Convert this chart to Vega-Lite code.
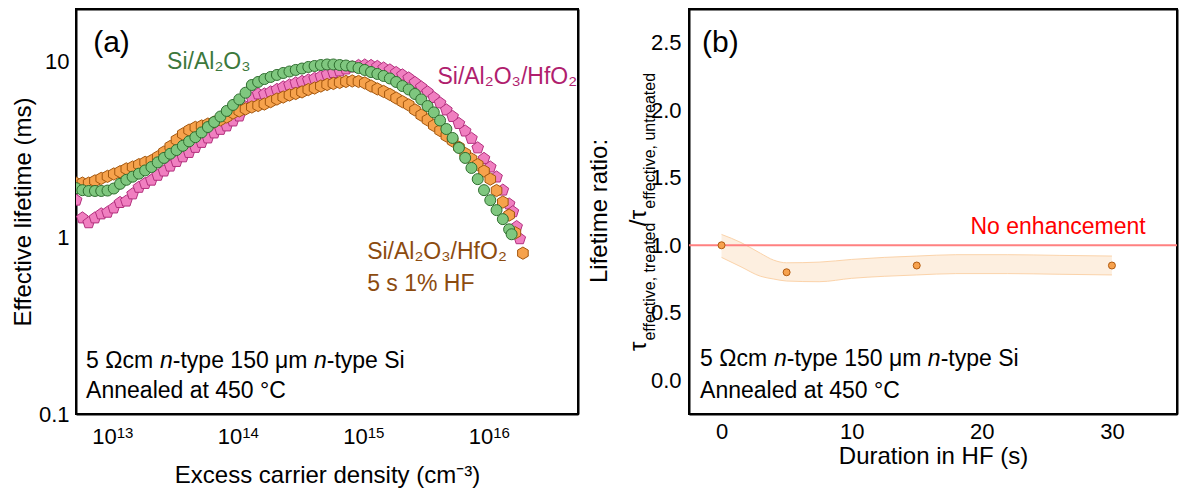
{
"$schema":"https://vega.github.io/schema/vega-lite/v6.json",
"autosize":{"type":"pad"},
"padding":{"left":10,"top":7,"right":16,"bottom":5},
"bounds":"flush",
"spacing":111,
"config":{
 "font":"Liberation Sans",
 "view":{"stroke":"#000","strokeWidth":2},
 "axis":{"domainColor":"#000","domainWidth":2,"tickColor":"#000","tickWidth":1.5,"tickSize":0,"labelFont":"Liberation Sans","labelFontSize":22,"labelColor":"#000","titleFont":"Liberation Sans","titleFontSize":24,"titleFontWeight":"normal","titleColor":"#000","grid":false,"labelOverlap":false,"labelFlush":false},
 "text":{"font":"Liberation Sans"}
},
"datasets":{
 "lifetime":[
  {"n":5.012e12,"g":1.92,"o":2.05,"p":1.64},
  {"n":5.623e12,"g":1.87,"o":2.05,"p":1.30},
  {"n":6.310e12,"g":1.85,"o":2.05,"p":1.22},
  {"n":7.079e12,"g":1.85,"o":2.11,"p":1.30},
  {"n":7.943e12,"g":1.85,"o":2.18,"p":1.37},
  {"n":8.913e12,"g":1.86,"o":2.24,"p":1.40},
  {"n":1.000e13,"g":1.91,"o":2.31,"p":1.48},
  {"n":1.122e13,"g":2.03,"o":2.38,"p":1.59},
  {"n":1.259e13,"g":2.14,"o":2.47,"p":1.62},
  {"n":1.413e13,"g":2.23,"o":2.53,"p":1.78},
  {"n":1.585e13,"g":2.32,"o":2.61,"p":1.94},
  {"n":1.778e13,"g":2.42,"o":2.69,"p":2.04},
  {"n":1.995e13,"g":2.53,"o":2.75,"p":2.13},
  {"n":2.239e13,"g":2.69,"o":2.89,"p":2.27},
  {"n":2.512e13,"g":2.85,"o":3.08,"p":2.40},
  {"n":2.818e13,"g":3.01,"o":3.31,"p":2.56},
  {"n":3.162e13,"g":3.16,"o":3.61,"p":2.72},
  {"n":3.548e13,"g":3.34,"o":3.90,"p":2.89},
  {"n":3.981e13,"g":3.54,"o":4.10,"p":3.06},
  {"n":4.467e13,"g":3.74,"o":4.25,"p":3.27},
  {"n":5.012e13,"g":3.98,"o":4.33,"p":3.49},
  {"n":5.623e13,"g":4.27,"o":4.44,"p":3.70},
  {"n":6.310e13,"g":4.56,"o":4.56,"p":3.95},
  {"n":7.079e13,"g":4.90,"o":4.69,"p":4.14},
  {"n":7.943e13,"g":5.27,"o":4.87,"p":4.33},
  {"n":8.913e13,"g":5.70,"o":5.13,"p":4.62},
  {"n":1.000e14,"g":6.13,"o":5.27,"p":4.93},
  {"n":1.122e14,"g":6.69,"o":5.41,"p":5.55},
  {"n":1.259e14,"g":7.40,"o":5.55,"p":6.24},
  {"n":1.413e14,"g":7.70,"o":5.66,"p":6.58},
  {"n":1.585e14,"g":8.00,"o":5.77,"p":6.58},
  {"n":1.778e14,"g":8.22,"o":5.95,"p":6.76},
  {"n":1.995e14,"g":8.44,"o":6.16,"p":6.98},
  {"n":2.239e14,"g":8.66,"o":6.32,"p":7.21},
  {"n":2.512e14,"g":8.83,"o":6.49,"p":7.40},
  {"n":2.818e14,"g":9.01,"o":6.62,"p":7.60},
  {"n":3.162e14,"g":9.18,"o":6.76,"p":7.75},
  {"n":3.548e14,"g":9.37,"o":6.97,"p":7.90},
  {"n":3.981e14,"g":9.49,"o":7.11,"p":8.06},
  {"n":4.467e14,"g":9.61,"o":7.30,"p":8.27},
  {"n":5.012e14,"g":9.68,"o":7.45,"p":8.49},
  {"n":5.623e14,"g":9.68,"o":7.55,"p":8.71},
  {"n":6.310e14,"g":9.61,"o":7.65,"p":8.89},
  {"n":7.079e14,"g":9.55,"o":7.75,"p":9.12},
  {"n":7.943e14,"g":9.43,"o":7.80,"p":9.37},
  {"n":8.913e14,"g":9.24,"o":7.75,"p":9.55},
  {"n":1.000e15,"g":9.01,"o":7.60,"p":9.61},
  {"n":1.122e15,"g":8.77,"o":7.30,"p":9.55},
  {"n":1.259e15,"g":8.55,"o":7.03,"p":9.43},
  {"n":1.413e15,"g":8.33,"o":6.80,"p":9.24},
  {"n":1.585e15,"g":8.06,"o":6.54,"p":9.01},
  {"n":1.778e15,"g":7.70,"o":6.24,"p":8.71},
  {"n":1.995e15,"g":7.30,"o":5.95,"p":8.44},
  {"n":2.239e15,"g":6.98,"o":5.70,"p":8.11},
  {"n":2.512e15,"g":6.58,"o":5.34,"p":7.65},
  {"n":2.818e15,"g":6.13,"o":4.99,"p":7.21},
  {"n":3.162e15,"g":5.62,"o":4.69,"p":6.76},
  {"n":3.548e15,"g":5.17,"o":4.36,"p":6.28},
  {"n":3.981e15,"g":4.65,"o":4.08,"p":5.85},
  {"n":4.467e15,"g":4.16,"o":3.80,"p":5.34},
  {"n":5.012e15,"g":3.70,"o":3.56,"p":4.90},
  {"n":5.623e15,"g":3.25,"o":3.28,"p":4.47},
  {"n":6.310e15,"g":2.85,"o":3.02,"p":4.05},
  {"n":7.079e15,"g":2.50,"o":2.81,"p":3.68},
  {"n":7.943e15,"g":2.16,"o":2.61,"p":3.25},
  {"n":8.913e15,"g":1.87,"o":2.40,"p":2.83},
  {"n":1.000e16,"g":1.64,"o":2.16,"p":2.53},
  {"n":1.122e16,"g":1.44,"o":1.86,"p":2.22},
  {"n":1.259e16,"g":1.28,"o":1.60,"p":1.87},
  {"n":1.413e16,"g":1.12,"o":1.35,"p":1.56},
  {"n":1.479e16,"g":1.05},
  {"n":1.514e16,"p":1.41},
  {"n":1.585e16,"o":1.07},
  {"n":1.622e16,"p":1.16},
  {"n":1.718e16,"p":0.99},
  {"n":1.820e16,"o":0.82}
 ],
 "decades":[{"n":1e13,"e":"13"},{"n":1e14,"e":"14"},{"n":1e15,"e":"15"},{"n":1e16,"e":"16"}],
 "ratio":[{"t":0,"r":1.0},{"t":5,"r":0.80},{"t":15,"r":0.85},{"t":30,"r":0.85}],
 "band":[
  {"t":0,"lo":0.91,"hi":1.08},{"t":1.5,"lo":0.84,"hi":1.02},{"t":3,"lo":0.77,"hi":0.94},{"t":4,"lo":0.75,"hi":0.89},
  {"t":5,"lo":0.735,"hi":0.87},{"t":7.5,"lo":0.73,"hi":0.875},{"t":10,"lo":0.755,"hi":0.895},{"t":12.5,"lo":0.77,"hi":0.91},
  {"t":15,"lo":0.78,"hi":0.92},{"t":18,"lo":0.79,"hi":0.93},{"t":22,"lo":0.79,"hi":0.93},{"t":26,"lo":0.785,"hi":0.925},{"t":30,"lo":0.78,"hi":0.92}
 ]
},
"hconcat":[
 {
  "width":502,"height":405,
  "data":{"name":"lifetime"},
  "resolve":{"axis":{"x":"independent","y":"independent"}},
  "layer":[
   {"mark":{"type":"point","shape":"M0,-1L0.951,-0.309L0.588,0.809L-0.588,0.809L-0.951,-0.309Z","filled":true,"fill":"#f07fc0","stroke":"#b3307e","strokeWidth":1,"size":150,"opacity":1,"clip":true},
    "encoding":{
     "x":{"field":"n","type":"quantitative","scale":{"type":"log","domain":[5e12,5e16],"nice":false},
      "axis":{"orient":"bottom","values":[6e12,7e12,8e12,9e12,1e13,2e13,3e13,4e13,5e13,6e13,7e13,8e13,9e13,1e14,2e14,3e14,4e14,5e14,6e14,7e14,8e14,9e14,1e15,2e15,3e15,4e15,5e15,6e15,7e15,8e15,9e15,1e16,2e16,3e16,4e16],
       "labels":false,"title":"Excess carrier density (cm⁻³)","titlePadding":49,
       "encode":{"ticks":{"y2":{"condition":{"test":"datum.value==1e13||datum.value==1e14||datum.value==1e15||datum.value==1e16","value":-8},"value":-4}}}}},
     "y":{"field":"p","type":"quantitative","scale":{"type":"log","domain":[0.1,20],"nice":false},
      "axis":{"orient":"left","values":[0.1,0.2,0.3,0.4,0.5,0.6,0.7,0.8,0.9,1,2,3,4,5,6,7,8,9,10],
       "labelExpr":"datum.value==0.1?'0.1':datum.value==1?'1':datum.value==10?'10':''",
       "labelPadding":7,"title":"Effective lifetime (ms)","titlePadding":3,
       "encode":{"ticks":{"x2":{"condition":{"test":"datum.value==0.1||datum.value==1||datum.value==10","value":8},"value":4}}}}}
    }},
   {"mark":{"type":"point","shape":"M0,-1L0.866,-0.5L0.866,0.5L0,1L-0.866,0.5L-0.866,-0.5Z","filled":true,"fill":"#f6a24c","stroke":"#a4570e","strokeWidth":1,"size":150,"opacity":1,"clip":true},
    "encoding":{
     "x":{"field":"n","type":"quantitative","scale":{"type":"log","domain":[5e12,5e16],"nice":false},
      "axis":{"orient":"top","values":[6e12,7e12,8e12,9e12,1e13,2e13,3e13,4e13,5e13,6e13,7e13,8e13,9e13,1e14,2e14,3e14,4e14,5e14,6e14,7e14,8e14,9e14,1e15,2e15,3e15,4e15,5e15,6e15,7e15,8e15,9e15,1e16,2e16,3e16,4e16],
       "labels":false,"title":null,
       "encode":{"ticks":{"y2":{"condition":{"test":"datum.value==1e13||datum.value==1e14||datum.value==1e15||datum.value==1e16","value":8},"value":4}}}}},
     "y":{"field":"o","type":"quantitative","scale":{"type":"log","domain":[0.1,20],"nice":false},
      "axis":{"orient":"right","values":[0.1,0.2,0.3,0.4,0.5,0.6,0.7,0.8,0.9,1,2,3,4,5,6,7,8,9,10],
       "labels":false,"title":null,
       "encode":{"ticks":{"x2":{"condition":{"test":"datum.value==0.1||datum.value==1||datum.value==10","value":-8},"value":-4}}}}}
    }},
   {"mark":{"type":"point","shape":"circle","filled":true,"fill":"#7fc77f","stroke":"#2f6e2f","strokeWidth":1,"size":121,"opacity":1,"clip":true},
    "encoding":{
     "x":{"field":"n","type":"quantitative","scale":{"type":"log","domain":[5e12,5e16],"nice":false},"axis":null},
     "y":{"field":"g","type":"quantitative","scale":{"type":"log","domain":[0.1,20],"nice":false},"axis":null}
    }},
   {"data":{"name":"decades"},"mark":{"type":"text","text":"10","fontSize":22,"align":"right","dx":3,"baseline":"alphabetic","fill":"#000"},
    "encoding":{"x":{"field":"n","type":"quantitative","scale":{"type":"log","domain":[5e12,5e16],"nice":false},"axis":null},"y":{"datum":0.0675,"type":"quantitative","scale":{"type":"log","domain":[0.1,20],"nice":false},"axis":null}}},
   {"data":{"name":"decades"},"mark":{"type":"text","fontSize":15,"align":"left","dx":3,"baseline":"alphabetic","fill":"#000"},
    "encoding":{"x":{"field":"n","type":"quantitative","scale":{"type":"log","domain":[5e12,5e16],"nice":false},"axis":null},"y":{"datum":0.0731,"type":"quantitative","scale":{"type":"log","domain":[0.1,20],"nice":false},"axis":null},"text":{"field":"e","type":"nominal"}}},
   {"data":{"values":[{}]},"mark":{"type":"text","text":"(a)","fontSize":30,"align":"left","baseline":"alphabetic","fill":"#000"},
    "encoding":{"x":{"datum":6.85e12,"type":"quantitative","scale":{"type":"log","domain":[5e12,5e16],"nice":false},"axis":null},"y":{"datum":11.4,"type":"quantitative","scale":{"type":"log","domain":[0.1,20],"nice":false},"axis":null}}},
   {"data":{"values":[{}]},"mark":{"type":"text","text":"Si/Al₂O₃","fontSize":23,"align":"left","baseline":"alphabetic","fill":"#3c783c"},
    "encoding":{"x":{"datum":2.66e13,"type":"quantitative","scale":{"type":"log","domain":[5e12,5e16],"nice":false},"axis":null},"y":{"datum":9.12,"type":"quantitative","scale":{"type":"log","domain":[0.1,20],"nice":false},"axis":null}}},
   {"data":{"values":[{}]},"mark":{"type":"text","text":"Si/Al₂O₃/HfO₂","fontSize":23,"align":"right","baseline":"alphabetic","fill":"#b01e6e"},
    "encoding":{"x":{"datum":4.92e16,"type":"quantitative","scale":{"type":"log","domain":[5e12,5e16],"nice":false},"axis":null},"y":{"datum":7.5,"type":"quantitative","scale":{"type":"log","domain":[0.1,20],"nice":false},"axis":null}}},
   {"data":{"values":[{}]},"mark":{"type":"text","text":"Si/Al₂O₃/HfO₂","fontSize":23,"align":"left","baseline":"alphabetic","fill":"#8c4b0f"},
    "encoding":{"x":{"datum":1.044e15,"type":"quantitative","scale":{"type":"log","domain":[5e12,5e16],"nice":false},"axis":null},"y":{"datum":0.759,"type":"quantitative","scale":{"type":"log","domain":[0.1,20],"nice":false},"axis":null}}},
   {"data":{"values":[{}]},"mark":{"type":"text","text":"5 s 1% HF","fontSize":23,"align":"left","baseline":"alphabetic","fill":"#8c4b0f"},
    "encoding":{"x":{"datum":1.044e15,"type":"quantitative","scale":{"type":"log","domain":[5e12,5e16],"nice":false},"axis":null},"y":{"datum":0.4995,"type":"quantitative","scale":{"type":"log","domain":[0.1,20],"nice":false},"axis":null}}},
   {"data":{"values":[{}]},"mark":{"type":"text","text":"5 Ωcm ","fontSize":23,"align":"left","baseline":"alphabetic","fill":"#000"},
    "encoding":{"x":{"datum":6.02e12,"type":"quantitative","scale":{"type":"log","domain":[5e12,5e16],"nice":false},"axis":null},"y":{"datum":0.1825,"type":"quantitative","scale":{"type":"log","domain":[0.1,20],"nice":false},"axis":null}}},
   {"data":{"values":[{}]},"mark":{"type":"text","text":"n","fontSize":23,"fontStyle":"italic","dx":73.9,"align":"left","baseline":"alphabetic","fill":"#000"},
    "encoding":{"x":{"datum":6.02e12,"type":"quantitative","scale":{"type":"log","domain":[5e12,5e16],"nice":false},"axis":null},"y":{"datum":0.1825,"type":"quantitative","scale":{"type":"log","domain":[0.1,20],"nice":false},"axis":null}}},
   {"data":{"values":[{}]},"mark":{"type":"text","text":"-type 150 μm ","fontSize":23,"dx":86.7,"align":"left","baseline":"alphabetic","fill":"#000"},
    "encoding":{"x":{"datum":6.02e12,"type":"quantitative","scale":{"type":"log","domain":[5e12,5e16],"nice":false},"axis":null},"y":{"datum":0.1825,"type":"quantitative","scale":{"type":"log","domain":[0.1,20],"nice":false},"axis":null}}},
   {"data":{"values":[{}]},"mark":{"type":"text","text":"n","fontSize":23,"fontStyle":"italic","dx":227.8,"align":"left","baseline":"alphabetic","fill":"#000"},
    "encoding":{"x":{"datum":6.02e12,"type":"quantitative","scale":{"type":"log","domain":[5e12,5e16],"nice":false},"axis":null},"y":{"datum":0.1825,"type":"quantitative","scale":{"type":"log","domain":[0.1,20],"nice":false},"axis":null}}},
   {"data":{"values":[{}]},"mark":{"type":"text","text":"-type Si","fontSize":23,"dx":240.6,"align":"left","baseline":"alphabetic","fill":"#000"},
    "encoding":{"x":{"datum":6.02e12,"type":"quantitative","scale":{"type":"log","domain":[5e12,5e16],"nice":false},"axis":null},"y":{"datum":0.1825,"type":"quantitative","scale":{"type":"log","domain":[0.1,20],"nice":false},"axis":null}}},
   {"data":{"values":[{}]},"mark":{"type":"text","text":"Annealed at 450 °C","fontSize":23,"align":"left","baseline":"alphabetic","fill":"#000"},
    "encoding":{"x":{"datum":6.02e12,"type":"quantitative","scale":{"type":"log","domain":[5e12,5e16],"nice":false},"axis":null},"y":{"datum":0.1233,"type":"quantitative","scale":{"type":"log","domain":[0.1,20],"nice":false},"axis":null}}}
  ]
 },
 {
  "width":488,"height":405,
  "resolve":{"axis":{"x":"independent","y":"independent"}},
  "layer":[
   {"data":{"name":"band"},"mark":{"type":"area","interpolate":"monotone","fill":"#fdefe0","opacity":1},
    "encoding":{
     "x":{"field":"t","type":"quantitative","scale":{"domain":[-2.5,35],"nice":false,"zero":false},
      "axis":{"orient":"bottom","values":[0,5,10,15,20,25,30],"labelExpr":"datum.value%10==0?datum.label:''",
       "labelPadding":7,"title":"Duration in HF (s)","titlePadding":2,
       "encode":{"ticks":{"y2":{"condition":{"test":"datum.value%10==0","value":-8},"value":-4}}}}},
     "y":{"field":"lo","type":"quantitative","scale":{"domain":[-0.25,2.75],"nice":false,"zero":false},
      "axis":{"orient":"left","values":[0,0.25,0.5,0.75,1,1.25,1.5,1.75,2,2.25,2.5],
       "labelExpr":"abs(datum.value*2-round(datum.value*2))<0.001?format(datum.value,'.1f'):''",
       "labelPadding":8,"title":null,
       "encode":{"ticks":{"x2":{"condition":{"test":"abs(datum.value*2-round(datum.value*2))<0.001","value":8},"value":4}}}}},
     "y2":{"field":"hi"}
    }},
   {"data":{"name":"band"},"mark":{"type":"line","interpolate":"monotone","stroke":"#fbd3aa","strokeWidth":1},
    "encoding":{"x":{"field":"t","type":"quantitative","scale":{"domain":[-2.5,35],"nice":false,"zero":false},"axis":null},
     "y":{"field":"lo","type":"quantitative","scale":{"domain":[-0.25,2.75],"nice":false,"zero":false},"axis":null}}},
   {"data":{"name":"band"},"mark":{"type":"line","interpolate":"monotone","stroke":"#fbd3aa","strokeWidth":1},
    "encoding":{"x":{"field":"t","type":"quantitative","scale":{"domain":[-2.5,35],"nice":false,"zero":false},"axis":null},
     "y":{"field":"hi","type":"quantitative","scale":{"domain":[-0.25,2.75],"nice":false,"zero":false},"axis":null}}},
   {"data":{"values":[{}]},"mark":{"type":"rule","stroke":"#ff8080","strokeWidth":2},
    "encoding":{"y":{"datum":1,"type":"quantitative","scale":{"domain":[-0.25,2.75],"nice":false,"zero":false},"axis":null}}},
   {"data":{"name":"ratio"},"mark":{"type":"point","shape":"circle","filled":true,"fill":"#f7a24e","stroke":"#b05a10","strokeWidth":1,"size":49,"opacity":1},
    "encoding":{
     "x":{"field":"t","type":"quantitative","scale":{"domain":[-2.5,35],"nice":false,"zero":false},
      "axis":{"orient":"top","values":[0,5,10,15,20,25,30],"labels":false,"title":null,
       "encode":{"ticks":{"y2":{"condition":{"test":"datum.value%10==0","value":8},"value":4}}}}},
     "y":{"field":"r","type":"quantitative","scale":{"domain":[-0.25,2.75],"nice":false,"zero":false},
      "axis":{"orient":"right","values":[0,0.25,0.5,0.75,1,1.25,1.5,1.75,2,2.25,2.5],"labels":false,"title":null,
       "encode":{"ticks":{"x2":{"condition":{"test":"abs(datum.value*2-round(datum.value*2))<0.001","value":-8},"value":-4}}}}}
    }},
   {"data":{"values":[{}]},"mark":{"type":"text","text":"(b)","fontSize":30,"align":"left","baseline":"alphabetic","fill":"#000"},
    "encoding":{"x":{"datum":-1.5,"type":"quantitative","scale":{"domain":[-2.5,35],"nice":false,"zero":false},"axis":null},"y":{"datum":2.43,"type":"quantitative","scale":{"domain":[-0.25,2.75],"nice":false,"zero":false},"axis":null}}},
   {"data":{"values":[{}]},"mark":{"type":"text","text":"No enhancement","fontSize":23,"align":"center","baseline":"alphabetic","fill":"#ff0000"},
    "encoding":{"x":{"datum":25.86,"type":"quantitative","scale":{"domain":[-2.5,35],"nice":false,"zero":false},"axis":null},"y":{"datum":1.083,"type":"quantitative","scale":{"domain":[-0.25,2.75],"nice":false,"zero":false},"axis":null}}},
   {"data":{"values":[{}]},"mark":{"type":"text","text":"5 Ωcm ","fontSize":23,"align":"left","baseline":"alphabetic","fill":"#000"},
    "encoding":{"x":{"datum":-1.65,"type":"quantitative","scale":{"domain":[-2.5,35],"nice":false,"zero":false},"axis":null},"y":{"datum":0.1056,"type":"quantitative","scale":{"domain":[-0.25,2.75],"nice":false,"zero":false},"axis":null}}},
   {"data":{"values":[{}]},"mark":{"type":"text","text":"n","fontSize":23,"fontStyle":"italic","dx":73.9,"align":"left","baseline":"alphabetic","fill":"#000"},
    "encoding":{"x":{"datum":-1.65,"type":"quantitative","scale":{"domain":[-2.5,35],"nice":false,"zero":false},"axis":null},"y":{"datum":0.1056,"type":"quantitative","scale":{"domain":[-0.25,2.75],"nice":false,"zero":false},"axis":null}}},
   {"data":{"values":[{}]},"mark":{"type":"text","text":"-type 150 μm ","fontSize":23,"dx":86.7,"align":"left","baseline":"alphabetic","fill":"#000"},
    "encoding":{"x":{"datum":-1.65,"type":"quantitative","scale":{"domain":[-2.5,35],"nice":false,"zero":false},"axis":null},"y":{"datum":0.1056,"type":"quantitative","scale":{"domain":[-0.25,2.75],"nice":false,"zero":false},"axis":null}}},
   {"data":{"values":[{}]},"mark":{"type":"text","text":"n","fontSize":23,"fontStyle":"italic","dx":227.8,"align":"left","baseline":"alphabetic","fill":"#000"},
    "encoding":{"x":{"datum":-1.65,"type":"quantitative","scale":{"domain":[-2.5,35],"nice":false,"zero":false},"axis":null},"y":{"datum":0.1056,"type":"quantitative","scale":{"domain":[-0.25,2.75],"nice":false,"zero":false},"axis":null}}},
   {"data":{"values":[{}]},"mark":{"type":"text","text":"-type Si","fontSize":23,"dx":240.6,"align":"left","baseline":"alphabetic","fill":"#000"},
    "encoding":{"x":{"datum":-1.65,"type":"quantitative","scale":{"domain":[-2.5,35],"nice":false,"zero":false},"axis":null},"y":{"datum":0.1056,"type":"quantitative","scale":{"domain":[-0.25,2.75],"nice":false,"zero":false},"axis":null}}},
   {"data":{"values":[{}]},"mark":{"type":"text","text":"Annealed at 450 °C","fontSize":23,"align":"left","baseline":"alphabetic","fill":"#000"},
    "encoding":{"x":{"datum":-1.65,"type":"quantitative","scale":{"domain":[-2.5,35],"nice":false,"zero":false},"axis":null},"y":{"datum":-0.1315,"type":"quantitative","scale":{"domain":[-0.25,2.75],"nice":false,"zero":false},"axis":null}}},
   {"data":{"values":[{}]},"mark":{"type":"text","text":"Lifetime ratio:","fontSize":24,"angle":270,"align":"center","baseline":"alphabetic","fill":"#000"},
    "encoding":{"x":{"datum":-8.8,"type":"quantitative","scale":{"domain":[-2.5,35],"nice":false,"zero":false},"axis":null},"y":{"datum":1.254,"type":"quantitative","scale":{"domain":[-0.25,2.75],"nice":false,"zero":false},"axis":null}}},
   {"data":{"values":[{}]},"mark":{"type":"text","text":"τ","fontSize":24,"angle":270,"align":"left","baseline":"alphabetic","fill":"#000"},
    "encoding":{"x":{"datum":-5.805,"type":"quantitative","scale":{"domain":[-2.5,35],"nice":false,"zero":false},"axis":null},"y":{"datum":0.2167,"type":"quantitative","scale":{"domain":[-0.25,2.75],"nice":false,"zero":false},"axis":null}}},
   {"data":{"values":[{}]},"mark":{"type":"text","text":"effective, treated","fontSize":16,"angle":270,"align":"left","baseline":"alphabetic","fill":"#000"},
    "encoding":{"x":{"datum":-5.113,"type":"quantitative","scale":{"domain":[-2.5,35],"nice":false,"zero":false},"axis":null},"y":{"datum":0.2937,"type":"quantitative","scale":{"domain":[-0.25,2.75],"nice":false,"zero":false},"axis":null}}},
   {"data":{"values":[{}]},"mark":{"type":"text","text":"/","fontSize":24,"angle":270,"align":"left","baseline":"alphabetic","fill":"#000"},
    "encoding":{"x":{"datum":-5.805,"type":"quantitative","scale":{"domain":[-2.5,35],"nice":false,"zero":false},"axis":null},"y":{"datum":1.1411,"type":"quantitative","scale":{"domain":[-0.25,2.75],"nice":false,"zero":false},"axis":null}}},
   {"data":{"values":[{}]},"mark":{"type":"text","text":"τ","fontSize":24,"angle":270,"align":"left","baseline":"alphabetic","fill":"#000"},
    "encoding":{"x":{"datum":-5.805,"type":"quantitative","scale":{"domain":[-2.5,35],"nice":false,"zero":false},"axis":null},"y":{"datum":1.1935,"type":"quantitative","scale":{"domain":[-0.25,2.75],"nice":false,"zero":false},"axis":null}}},
   {"data":{"values":[{}]},"mark":{"type":"text","text":"effective, untreated","fontSize":16,"angle":270,"align":"left","baseline":"alphabetic","fill":"#000"},
    "encoding":{"x":{"datum":-5.113,"type":"quantitative","scale":{"domain":[-2.5,35],"nice":false,"zero":false},"axis":null},"y":{"datum":1.2706,"type":"quantitative","scale":{"domain":[-0.25,2.75],"nice":false,"zero":false},"axis":null}}}
  ]
 }
]
}
